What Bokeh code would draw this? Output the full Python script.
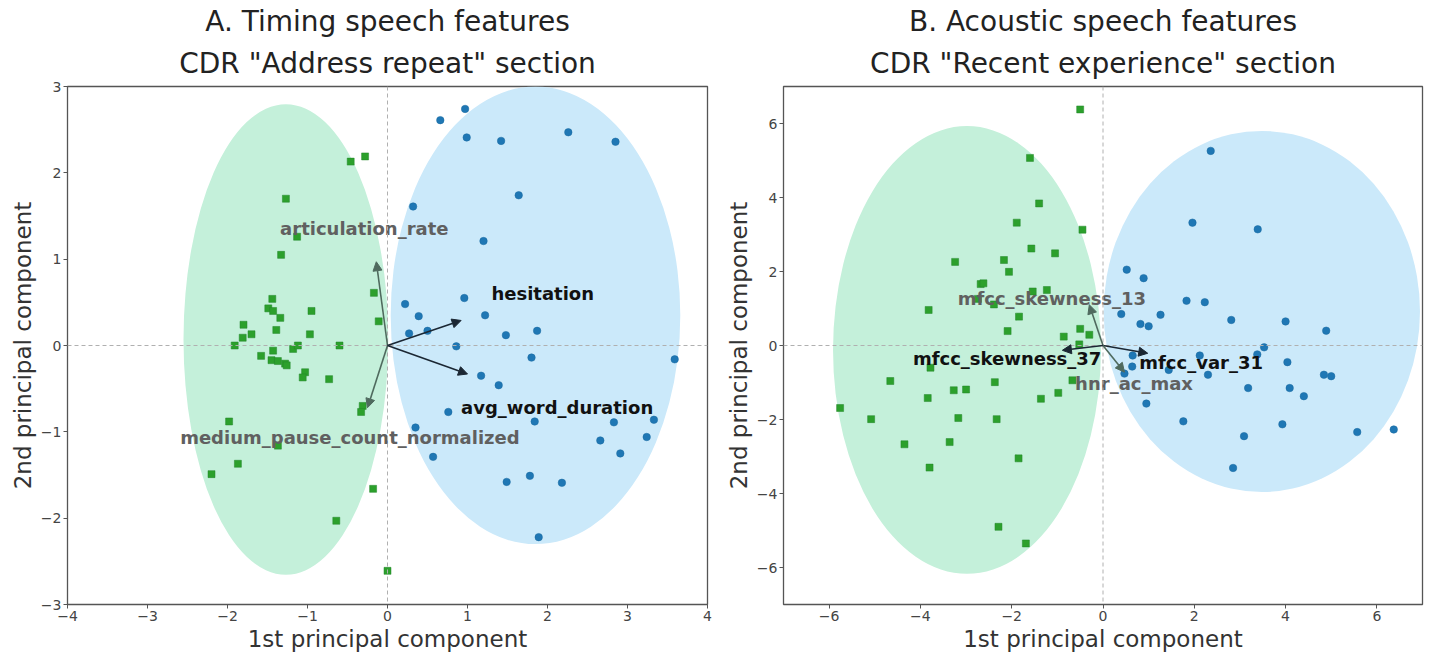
from bokeh.plotting import figure
from bokeh.models import ColumnDataSource, Span, Arrow, NormalHead, Title, FixedTicker
from bokeh.layouts import row
from bokeh.embed import file_html
from bokeh.resources import INLINE
from bokeh.core.properties import value

# ---------------- data: panel A (timing features) ----------------
a_green_x = [-0.46, -0.28, -1.27, -1.13, -1.33, -0.17, -0.11, -1.44, -1.49, -1.43,
             -0.95, -1.34, -1.80, -1.39, -0.97, -1.81, -1.70, -1.91, -0.60, -1.58,
             -1.43, -1.45, -1.37, -1.28, -1.26, -1.18, -1.12, -1.03, -1.06, -0.73,
             -0.31, -0.33, -1.98, -1.37, -1.87, -2.20, -0.18, -0.64, 0.00]
a_green_y = [2.13, 2.19, 1.70, 1.26, 1.05, 0.61, 0.28, 0.54, 0.43, 0.40,
             0.40, 0.32, 0.24, 0.18, 0.13, 0.09, 0.13, 0.00, 0.00, -0.12,
             -0.06, -0.17, -0.18, -0.21, -0.23, -0.04, 0.00, -0.31, -0.37, -0.39,
             -0.70, -0.77, -0.88, -1.16, -1.37, -1.49, -1.66, -2.03, -2.61]
a_blue_x = [0.66, 0.97, 0.99, 1.42, 2.26, 2.85, 1.64, 0.32, 1.20, 0.96,
            0.22, 0.39, 1.22, 0.27, 0.50, 1.48, 1.87, 0.86, 1.80, 3.59,
            1.17, 1.39, 0.76, 1.84, 2.83, 3.33, 0.35, 2.66, 3.24, 2.91,
            0.57, 1.49, 1.78, 2.18, 1.89]
a_blue_y = [2.61, 2.74, 2.41, 2.37, 2.47, 2.36, 1.74, 1.61, 1.21, 0.55,
            0.48, 0.34, 0.35, 0.14, 0.17, 0.12, 0.17, -0.01, -0.14, -0.16,
            -0.35, -0.46, -0.77, -0.88, -0.89, -0.86, -0.95, -1.10, -1.06, -1.25,
            -1.29, -1.58, -1.51, -1.59, -2.22]
a_ell_green = [-1.27, 0.07, 2.56, 5.45]   # cx, cy, width, height
a_ell_blue = [1.85, 0.35, 3.62, 5.30]
a_feat = ["articulation_rate", "medium_pause_count_normalized", "hesitation", "avg_word_duration"]
a_feat_dx = [-0.14, -0.25, 0.92, 1.00]
a_feat_dy = [0.97, -0.72, 0.29, -0.33]
a_lab_x = [-0.29, -0.47, 1.94, 2.12]
a_lab_y = [1.36, -1.07, 0.60, -0.72]
a_dark = [False, False, True, True]

# ---------------- data: panel B (acoustic features) ----------------
b_green_x = [-0.50, -1.60, -1.40, -1.89, -0.45, -1.57, -1.05, -3.24, -2.17, -2.06,
             -2.68, -2.62, -1.54, -1.23, -2.74, -2.39, -3.82, -1.84, -2.09, -0.86,
             -0.50, -0.30, -0.52, -3.78, -4.66, -5.76, -5.08, -3.84, -3.27, -3.00,
             -2.37, -3.17, -2.33, -4.35, -3.36, -3.80, -1.85, -1.36, -0.98, -0.67,
             -2.29, -1.69]
b_green_y = [6.38, 5.07, 3.84, 3.32, 3.13, 2.62, 2.49, 2.26, 2.31, 1.99,
             1.66, 1.68, 1.46, 1.50, 1.26, 1.11, 0.96, 0.78, 0.39, 0.24,
             0.45, 0.29, 0.03, -0.60, -0.96, -1.69, -1.99, -1.42, -1.21, -1.19,
             -0.99, -1.96, -1.99, -2.67, -2.61, -3.30, -3.05, -1.44, -1.28, -0.94,
             -4.90, -5.35]
b_blue_x = [2.36, 1.96, 3.39, 0.52, 0.89, 1.83, 2.23, 0.40, 0.82, 1.00,
            1.26, 2.81, 4.00, 4.89, 3.53, 0.65, 0.64, 0.47, 2.12, 1.44,
            2.30, 3.38, 4.04, 4.84, 5.00, 3.18, 4.09, 4.40, 0.95, 1.76,
            3.93, 3.09, 5.57, 6.37, 2.85]
b_blue_y = [5.26, 3.32, 3.14, 2.05, 1.82, 1.21, 1.17, 0.85, 0.58, 0.52,
            0.83, 0.69, 0.65, 0.40, -0.05, -0.27, -0.57, -0.76, -0.27, -0.66,
            -0.79, -0.24, -0.45, -0.79, -0.83, -1.15, -1.15, -1.37, -1.57, -2.05,
            -2.13, -2.45, -2.34, -2.27, -3.31]
b_ell_green = [-2.98, -0.12, 5.87, 12.10]
b_ell_blue = [3.48, 0.92, 6.93, 9.76]
b_feat = ["mfcc_skewness_13", "mfcc_skewness_37", "mfcc_var_31", "hnr_ac_max"]
b_feat_dx = [-0.30, -0.89, 0.98, 0.47]
b_feat_dy = [1.10, -0.13, -0.21, -0.72]
b_lab_x = [-1.12, -2.10, 2.15, 0.68]
b_lab_y = [1.27, -0.35, -0.46, -1.02]
b_dark = [False, True, True, False]

a_xticks = [-4, -3, -2, -1, 0, 1, 2, 3, 4]
a_yticks = [-3, -2, -1, 0, 1, 2, 3]
b_xticks = [-6, -4, -2, 0, 2, 4, 6]
b_yticks = [-6, -4, -2, 0, 2, 4, 6]

FONT = "DejaVu Sans"
GREEN = "#2ca02c"
BLUE = "#1f77b4"
GREEN_FILL = "#c4f0da"
BLUE_FILL = "#cbe9fa"


def tick_text(v):
    return ("\u2212" + str(abs(v))) if v < 0 else str(v)


def panel(width, bl, br, xr, yr, xt, yt, t1, t2, gx, gy, bx, by, eg, eb,
          feat, dx, dy, lx, ly, dark):
    p = figure(width=width, height=654, x_range=xr, y_range=yr,
               output_backend="svg", toolbar_location=None,
               min_border_left=bl, min_border_right=br,
               min_border_top=86, min_border_bottom=49)
    # outer title line
    p.title.text = t1
    p.title.align = "center"
    p.title.text_font = FONT
    p.title.text_font_size = "28px"
    p.title.text_font_style = "normal"
    p.title.text_color = "#222222"
    p.title.standoff = 0
    # inner title line (closest to the frame)
    inner = Title(text=t2, align="center", text_font=FONT, text_font_size="28px",
                  text_font_style="normal", text_color="#222222", standoff=14)
    p.add_layout(inner, "above")

    p.grid.visible = False
    p.outline_line_color = "#555555"
    p.outline_line_width = 1.3
    p.background_fill_color = "white"
    p.border_fill_color = "white"

    for ax, ticks in ((p.xaxis[0], xt), (p.yaxis[0], yt)):
        ax.ticker = FixedTicker(ticks=ticks)
        ax.major_label_overrides = {v: tick_text(v) for v in ticks}
        ax.axis_line_color = None
        ax.major_tick_line_color = "#555555"
        ax.major_tick_out = 4
        ax.major_tick_in = 0
        ax.minor_tick_line_color = None
        ax.major_label_text_font = FONT
        ax.major_label_text_font_size = "14px"
        ax.major_label_text_color = "#444444"
        ax.major_label_standoff = 2
        ax.axis_label_text_font = FONT
        ax.axis_label_text_font_size = "23px"
        ax.axis_label_text_font_style = "normal"
        ax.axis_label_text_color = "#333333"
        ax.axis_label_standoff = 2
    p.xaxis.axis_label = "1st principal component"
    p.yaxis.axis_label = "2nd principal component"

    p.ellipse(x=[eg[0]], y=[eg[1]], width=[eg[2]], height=[eg[3]],
              fill_color=GREEN_FILL, line_color=None)
    p.ellipse(x=[eb[0]], y=[eb[1]], width=[eb[2]], height=[eb[3]],
              fill_color=BLUE_FILL, line_color=None)

    p.scatter(x=gx, y=gy, marker="square", size=7, fill_color=GREEN,
              line_color="#23862a", line_width=0.5)
    p.scatter(x=bx, y=by, marker="circle", size=7.5, fill_color=BLUE,
              line_color="#1a6aa0", line_width=0.5)

    p.add_layout(Span(location=0, dimension="width", line_color="#b0b0b0",
                      line_dash="4 3", line_width=1))
    p.add_layout(Span(location=0, dimension="height", line_color="#b0b0b0",
                      line_dash="4 3", line_width=1))

    for i in range(len(feat)):
        col = "#1b2733" if dark[i] else "#4f6a5e"
        p.add_layout(Arrow(x_start=0, y_start=0, x_end=dx[i], y_end=dy[i],
                           line_color=col, line_width=1.6,
                           end=NormalHead(size=9, fill_color=col, line_color=col)))
    src = ColumnDataSource(dict(
        x=lx, y=ly, t=feat,
        c=["#111111" if d else "#606060" for d in dark]))
    p.text(x="x", y="y", text="t", source=src, text_color="c",
           text_font=value(FONT), text_font_style="bold", text_font_size="18px",
           text_align="center", text_baseline="middle")
    return p


pa = panel(722, 67, 15, (-4, 4), (-3, 3), a_xticks, a_yticks,
           "A. Timing speech features", 'CDR "Address repeat" section',
           a_green_x, a_green_y, a_blue_x, a_blue_y, a_ell_green, a_ell_blue,
           a_feat, a_feat_dx, a_feat_dy, a_lab_x, a_lab_y, a_dark)
pb = panel(708, 60, 8, (-7, 7), (-7, 7), b_xticks, b_yticks,
           "B. Acoustic speech features", 'CDR "Recent experience" section',
           b_green_x, b_green_y, b_blue_x, b_blue_y, b_ell_green, b_ell_blue,
           b_feat, b_feat_dx, b_feat_dy, b_lab_x, b_lab_y, b_dark)

layout = row(pa, pb)
open("out.html", "w").write(file_html(layout, INLINE))
